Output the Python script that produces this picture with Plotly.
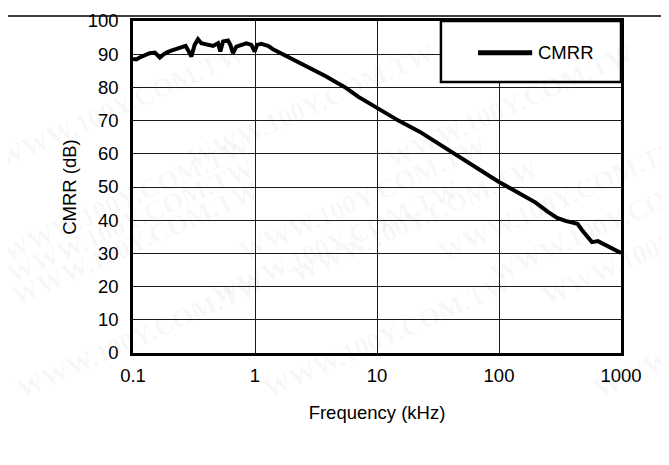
import plotly.graph_objects as go

# Frequency (kHz) and CMRR (dB)
freq_khz = [0.100, 0.1065, 0.1135, 0.1246, 0.137, 0.151, 0.166, 0.176, 0.188, 0.206, 0.226,
            0.249, 0.270, 0.282, 0.301, 0.320, 0.341, 0.363, 0.399, 0.453, 0.498,
            0.520, 0.547, 0.601, 0.628, 0.660, 0.703, 0.773, 0.849, 0.933, 0.994,
            1.038, 1.127, 1.200, 1.279, 1.406, 1.594, 1.806, 2.048, 2.32, 2.63,
            2.99, 3.39, 3.84, 4.36, 4.94, 5.61, 7.0, 10.0, 15.0, 22.5,
            30.0, 40.0, 50.0, 70.0, 100.0, 150.0, 200.0, 250.0, 300.0, 350.0,
            405.0, 440.0, 480.0, 540.0, 578.0, 647.0, 750.0, 850.0, 1000.0]
cmrr_db = [88.6, 88.4, 89.0, 89.8, 90.3, 90.5, 89.0, 89.8, 90.5, 91.1, 91.5,
           92.1, 92.5, 91.3, 89.3, 92.8, 94.5, 93.3, 93.0, 92.5, 93.3,
           90.8, 93.8, 94.1, 92.8, 90.3, 92.3, 92.8, 93.3, 92.8, 90.8,
           92.8, 93.1, 92.8, 92.5, 91.5, 90.5, 89.3, 88.3, 87.3, 86.3,
           85.5, 84.3, 83.3, 82.1, 81.1, 79.8, 77.2, 73.8, 70.0, 66.6,
           63.7, 60.8, 58.7, 55.3, 51.5, 47.9, 45.3, 42.6, 40.7, 39.8,
           39.2, 38.9, 37.0, 34.5, 33.4, 33.7, 32.5, 31.3, 30.1]

x_tick_vals = [0.1, 1, 10, 100, 1000]
x_tick_text = ["0.1", "1", "10", "100", "1000"]
y_tick_vals = [0, 10, 20, 30, 40, 50, 60, 70, 80, 90, 100]

series_name = "CMRR"
x_title = "Frequency (kHz)"
y_title = "CMRR (dB)"
watermark = "WWW.100Y.COM.TW"

FONT = "Liberation Sans, Arial, sans-serif"

fig = go.Figure()
fig.add_trace(go.Scatter(
    x=freq_khz, y=cmrr_db, mode="lines", name=series_name,
    line=dict(color="black", width=4), showlegend=False,
))

axis_common = dict(
    showgrid=True, gridcolor="#1a1a1a", gridwidth=1,
    showline=True, linecolor="black", linewidth=2.5, mirror=True,
    ticks="outside", tickcolor="rgba(0,0,0,0)",
    tickfont=dict(family=FONT, size=18.5, color="black"),
    zeroline=False,
)

# page body has an 8px margin, so the figure is 8px smaller and offset
fig.update_layout(
    width=661, height=457,
    margin=dict(l=125, r=48, t=13, b=112, autoexpand=False),
    paper_bgcolor="white", plot_bgcolor="white",
    showlegend=False,
    xaxis=dict(type="log", range=[-1, 3], tickvals=x_tick_vals, ticktext=x_tick_text,
               ticklen=4,
               title=dict(text=x_title, font=dict(family=FONT, size=18.5, color="black"), standoff=22),
               **axis_common),
    yaxis=dict(range=[0, 100], tickvals=y_tick_vals, ticklen=8,
               title=dict(text=y_title, font=dict(family=FONT, size=18.5, color="black"), standoff=7),
               **axis_common),
)

# top page rule
fig.add_shape(type="line", xref="paper", yref="paper",
              x0=-0.3, x1=1.2, y0=1.015, y1=1.015,
              line=dict(color="black", width=1.5))

# legend box drawn as a boxed key
fig.add_shape(type="rect", xref="paper", yref="paper",
              x0=0.631, x1=1.0, y0=0.816, y1=1.0,
              fillcolor="white", line=dict(color="black", width=2.5), layer="above")
fig.add_shape(type="line", xref="paper", yref="paper",
              x0=0.707, x1=0.818, y0=0.904, y1=0.904,
              line=dict(color="black", width=5), layer="above")
fig.add_annotation(text=series_name, xref="paper", yref="paper",
                   x=0.825, y=0.904, xanchor="left", yanchor="middle",
                   showarrow=False, font=dict(family=FONT, size=18.5, color="black"))

# faint watermark tiles
for r in range(5):
    for cx in (-10 + 5 * r, 310 + 52 * r, 640 + 52 * r):
        py = 35 + 93 * r
        fig.add_annotation(text="<b>" + watermark + "</b>", xref="paper", yref="paper",
                           x=(cx - 133) / 488, y=(353 - py) / 332,
                           showarrow=False, textangle=-24,
                           font=dict(family="Liberation Serif, Times New Roman, serif",
                                     size=27, color="rgba(0,0,0,0.04)"))

fig.write_html("out.html")
